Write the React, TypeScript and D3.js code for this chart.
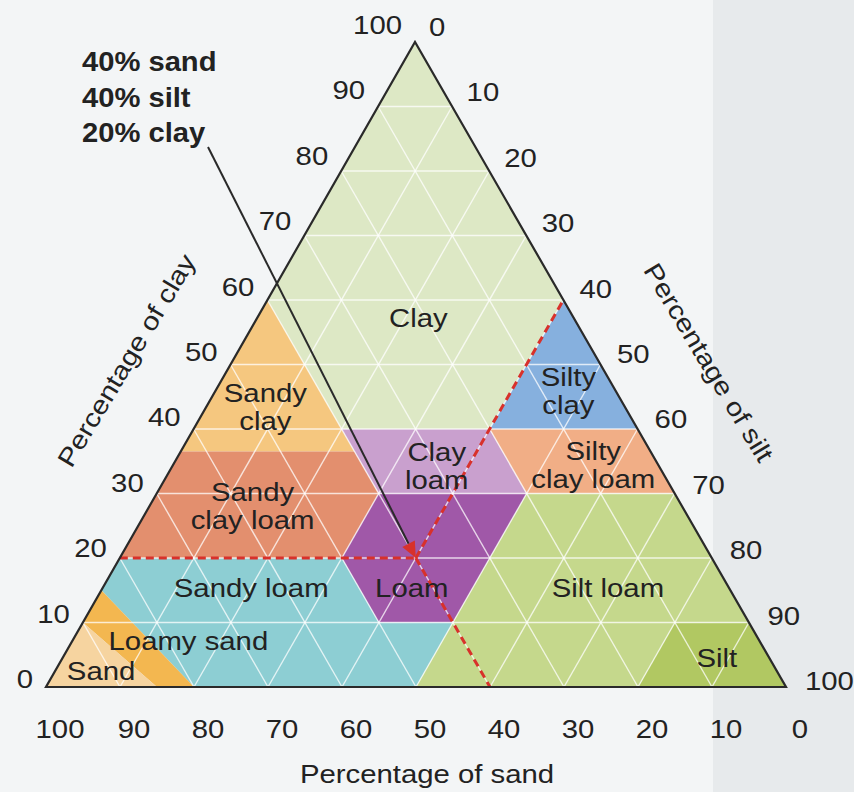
import React from "react";
import * as d3 from "d3";

const W = 854;
const H = 792;

// tick values (percent)
const ticks = d3.range(0, 101, 10);
const gridValues = d3.range(10, 100, 10);

// soil texture classes: vertices as [sand %, clay %] (silt = 100 - sand - clay)
const regionNames = [
  "Clay", "Sandy clay", "Sandy clay loam", "Clay loam", "Silty clay", "Silty clay loam",
  "Loam", "Sandy loam", "Loamy sand", "Sand", "Silt loam", "Silt",
];
const regionVertices: number[][][] = [
  [[0, 100], [40, 60], [40, 40], [20, 40], [0, 60]],
  [[40, 60], [40, 36.5], [63.5, 36.5]],
  [[63.5, 36.5], [40, 36.5], [40, 30], [50, 20], [80, 20]],
  [[40, 40], [20, 40], [20, 30], [40, 30]],
  [[0, 60], [20, 40], [0, 40]],
  [[20, 40], [0, 40], [0, 30], [20, 30]],
  [[40, 30], [20, 30], [40, 10], [50, 10], [50, 20]],
  [[80, 20], [50, 20], [50, 10], [40, 10], [50, 0], [80, 0], [85, 15]],
  [[85, 15], [80, 0], [85, 0], [90, 10]],
  [[90, 10], [85, 0], [100, 0]],
  [[20, 30], [0, 30], [0, 10], [10, 10], [20, 0], [50, 0]],
  [[10, 10], [0, 10], [0, 0], [20, 0]],
];
const regionColors = [
  "#dde8c5", "#f5c77f", "#e38f6e", "#c9a0ce", "#86b0de", "#f1ae86",
  "#a058a8", "#8dced3", "#f3b750", "#f6d4a0", "#c5d88c", "#b1c862",
];
// label lines and anchor [sand %, clay %]
const regionLabelLines = [
  ["Clay"], ["Sandy", "clay"], ["Sandy", "clay loam"], ["Clay", "loam"], ["Silty", "clay"],
  ["Silty", "clay loam"], ["Loam"], ["Sandy loam"], ["Loamy sand"], ["Sand"], ["Silt loam"], ["Silt"],
];
const regionLabelAt = [
  [21, 57.2], [48.6, 43.4], [58, 28.1], [30, 34.3], [6.4, 45.9], [8.8, 34.4],
  [42.9, 15.3], [64.6, 15.3], [77.2, 7.1], [91.3, 2.5], [16.4, 15.3], [7.1, 4.5],
];

// example soil
const exampleSand = 40;
const exampleSilt = 40;
const exampleClay = 20;
const exampleLines = ["40% sand", "40% silt", "20% clay"];

// geometry
const BL = [46, 687];
const BR = [786, 687];
const T = [415, 42];
const baseX = d3.scaleLinear().domain([100, 0]).range([BL[0], BR[0]]);
const clayShiftX = d3.scaleLinear().domain([0, 100]).range([0, T[0] - BR[0]]);
const clayY = d3.scaleLinear().domain([0, 100]).range([BL[1], T[1]]);
const P = (sand: number, clay: number): [number, number] => [baseX(sand) + clayShiftX(clay), clayY(clay)];

const FONT = "'Liberation Sans', Arial, Helvetica, sans-serif";
const SX = 1.15;

function Txt({ x, y, anchor = "middle", size = 25.5, weight = 400, rotate = 0, children, sx = SX }: any) {
  return (
    <g transform={`translate(${x},${y}) rotate(${rotate}) scale(${sx},1)`}>
      <text x={0} y={0} textAnchor={anchor} fontFamily={FONT} fontSize={size} fontWeight={weight} fill="#222">
        {children}
      </text>
    </g>
  );
}

export default function App() {
  const line = d3.line();
  const poly = (v: number[][]) => line(v.map(([s, c]) => P(s, c)))! + "Z";

  const grid: [number, number][][] = [];
  gridValues.forEach((v) => {
    grid.push([P(100 - v, v), P(0, v)]); // clay
    grid.push([P(v, 100 - v), P(v, 0)]); // sand
    grid.push([P(100 - v, 0), P(0, 100 - v)]); // silt
  });

  const pt = P(exampleSand, exampleClay);
  const dashed: [number, number][][] = [
    [P(100 - exampleClay, exampleClay), pt],
    [pt, P(0, 100 - exampleSilt)],
    [pt, P(exampleSand, 0)],
  ];

  const ptrStart: [number, number] = [208, 147];
  const ang = Math.atan2(pt[1] - ptrStart[1], pt[0] - ptrStart[0]);
  const ah = 16, aw = 7;
  const back = [pt[0] - ah * Math.cos(ang), pt[1] - ah * Math.sin(ang)];
  const nx = -Math.sin(ang), ny = Math.cos(ang);
  const arrow = `M${pt[0]},${pt[1]}L${back[0] + nx * aw},${back[1] + ny * aw}L${back[0] - nx * aw},${back[1] - ny * aw}Z`;

  return (
    <svg width={W} height={H} style={{ position: "absolute", left: 0, top: 0 }}>
      <rect x={0} y={0} width={W} height={H} fill="#f3f5f6" />
      <rect x={713} y={0} width={W - 713} height={H} fill="#e7eaec" />

      {regionVertices.map((v, i) => (
        <path key={regionNames[i]} d={poly(v)} fill={regionColors[i]} />
      ))}

      {grid.map((g, i) => (
        <line key={i} x1={g[0][0]} y1={g[0][1]} x2={g[1][0]} y2={g[1][1]} stroke="#ffffff" strokeOpacity={0.75} strokeWidth={1.4} />
      ))}

      {dashed.map((g, i) => (
        <line key={"d" + i} x1={g[0][0]} y1={g[0][1]} x2={g[1][0]} y2={g[1][1]} stroke="#d8312b" strokeWidth={3} strokeDasharray="8,5" />
      ))}

      <path d={`M${BL[0]},${BL[1]}L${BR[0]},${BR[1]}L${T[0]},${T[1]}Z`} fill="none" stroke="#2a2a2a" strokeWidth={2.2} strokeLinejoin="miter" />

      <line x1={ptrStart[0]} y1={ptrStart[1]} x2={back[0]} y2={back[1]} stroke="#2a2a2a" strokeWidth={2} />
      <path d={arrow} fill="#d8312b" />

      {exampleLines.map((t, i) => (
        <Txt key={t} x={82} y={71 + i * 35.5} anchor="start" size={27} weight={700} sx={1.08}>{t}</Txt>
      ))}

      {regionLabelLines.map((lines, i) => {
        const [cx, cy] = P(regionLabelAt[i][0], regionLabelAt[i][1]);
        const lh = 28;
        return lines.map((t, j) => (
          <Txt key={regionNames[i] + j} x={cx} y={cy + 9 + (j - (lines.length - 1) / 2) * lh}>{t}</Txt>
        ));
      })}

      {/* clay ticks (left edge) */}
      {ticks.map((v) => {
        const [ex, ey] = P(100 - v, v);
        return <Txt key={"c" + v} x={ex - 13} y={ey + 1 - 0.09 * v} anchor="end">{v}</Txt>;
      })}
      {/* silt ticks (right edge) */}
      {ticks.map((v) => {
        const [ex, ey] = P(0, 100 - v);
        return <Txt key={"s" + v} x={ex + 14 + 0.05 * v} y={ey - 6 + 0.09 * v} anchor="start">{v}</Txt>;
      })}
      {/* sand ticks (bottom) */}
      {ticks.map((v) => {
        const [ex] = P(v, 0);
        return <Txt key={"n" + v} x={ex + 14} y={738}>{v}</Txt>;
      })}

      <Txt x={134} y={356 + 9} rotate={-59}>Percentage of clay</Txt>
      <Txt x={701} y={358 + 9} rotate={59}>Percentage of silt</Txt>
      <Txt x={427} y={783}>Percentage of sand</Txt>
    </svg>
  );
}
